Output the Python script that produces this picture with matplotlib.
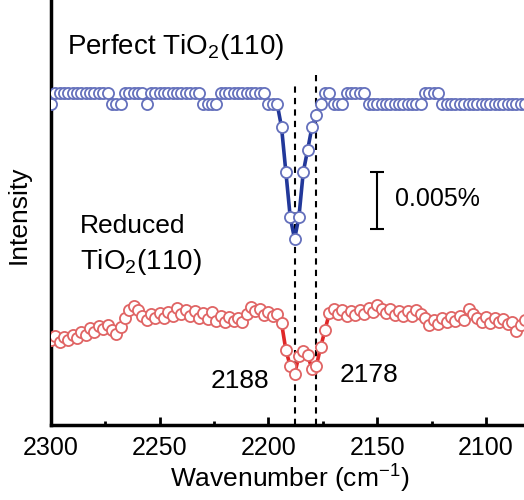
import numpy as np
import matplotlib
matplotlib.use("Agg")
import matplotlib.pyplot as plt

plt.rcParams['font.family'] = ['Liberation Sans', 'DejaVu Sans']
plt.rcParams['mathtext.default'] = 'regular'

# wavenumber grid (cm^-1), 2 cm^-1 steps
wavenumber = np.arange(2300, 2081, -2)

# perfect TiO2(110), intensity in arbitrary units (offset)
perfect = [
    321,
    332, 332, 332, 332, 332, 332, 332, 332, 332, 332, 332, 332, 332,
    321, 321, 321,
    332, 332, 332, 332, 332,
    321,
    332, 332, 332, 332, 332, 332, 332, 332, 332, 332, 332, 332,
    321, 321, 321, 321,
    332, 332, 332, 332, 332, 332, 332, 332, 332, 332, 332,
    321, 321, 321,
    298, 253, 208, 186, 208, 253, 275, 298, 310,
    321,
    332, 332,
    321, 321, 321,
    332, 332, 332, 332, 332,
    321, 321, 321, 321, 321, 321, 321, 321, 321, 321, 321, 321, 321,
    332, 332, 332, 332,
    321, 321, 321, 321, 321, 321, 321, 321, 321, 321,
    321, 321, 321, 321, 321, 321, 321, 321, 321, 321,
]

# reduced TiO2(110)
reduced = [
    85, 89, 83, 88, 85, 90, 87, 93, 90, 97,
    93, 99, 96, 100, 95, 91, 98, 107, 115, 119,
    115, 109, 105, 111, 107, 112, 107, 113, 109, 117,
    111, 115, 109, 114, 107, 112, 106, 113, 104, 109,
    103, 108, 104, 107, 103, 111, 118, 114, 116, 110,
    113, 109, 111, 102, 75, 59, 51, 69, 74, 70,
    56, 59, 78, 95, 112, 116, 111, 115, 109, 114,
    110, 115, 111, 117, 113, 120, 116, 112, 116, 110,
    114, 109, 114, 109, 115, 111, 107, 100, 105, 101,
    107, 103, 108, 104, 109, 105, 116, 111, 107, 103,
    108, 102, 107, 103, 106, 101, 103, 94, 100, 105,
]

peak_lines = [2188, 2178]
peak_line_tops = [343, 353]
peak_labels = ['2188', '2178']

xticks = [2300, 2250, 2200, 2150, 2100]
minor_xticks = [2275, 2225, 2175, 2125]

fig = plt.figure(figsize=(5.24, 5.0), dpi=100)
ax = fig.add_axes([51 / 524, 75 / 500, 473 / 524, 425 / 500])

ax.plot(wavenumber, perfect, '-', color='#22389a', lw=2.6,
        marker='o', ms=8, mfc='white', mec='#6470bc', mew=1.3, zorder=3)
ax.plot(wavenumber, reduced, '-', color='#e02828', lw=2.6,
        marker='o', ms=8, mfc='white', mec='#e06464', mew=1.3, zorder=3)

for xv, top in zip(peak_lines, peak_line_tops):
    ax.plot([xv, xv], [0, top], color='black', lw=1.5,
            linestyle=(0, (3, 2.5)), zorder=2)

# scale bar 0.005 %
ax.errorbar([2150], [224.5], yerr=[28.5], color='black', lw=1.5,
            capsize=5, capthick=1.5)
ax.text(2142, 226, '0.005%', fontsize=18, va='center', ha='left')

ax.text(2292.5, 378, 'Perfect TiO$_2$(110)', fontsize=20, va='center', ha='left')
ax.text(2286.5, 199, 'Reduced', fontsize=19, va='center', ha='left')
ax.text(2286.5, 163, 'TiO$_2$(110)', fontsize=20, va='center', ha='left')
ax.text(2213, 44, peak_labels[0], fontsize=19, va='center', ha='center')
ax.text(2154, 50, peak_labels[1], fontsize=19, va='center', ha='center')

ax.set_xlim(2300, 2082.5)
ax.set_ylim(0, 425)
ax.set_xticks(xticks)
ax.set_xticks(minor_xticks, minor=True)
ax.set_yticks([])
ax.tick_params(axis='x', which='major', direction='in', length=6, width=2,
               labelsize=18, pad=8)
ax.tick_params(axis='x', which='minor', direction='in', length=3, width=2)

for side in ['top', 'right']:
    ax.spines[side].set_visible(False)
for side in ['left', 'bottom']:
    ax.spines[side].set_linewidth(2.5)

ax.set_xlabel('Wavenumber (cm$^{-1}$)', fontsize=19)
ax.xaxis.set_label_coords(0.505, -0.09)
ax.set_ylabel('Intensity', fontsize=19)
ax.yaxis.set_label_coords(-0.044, 0.494)

fig.savefig('out.png', dpi=100)
